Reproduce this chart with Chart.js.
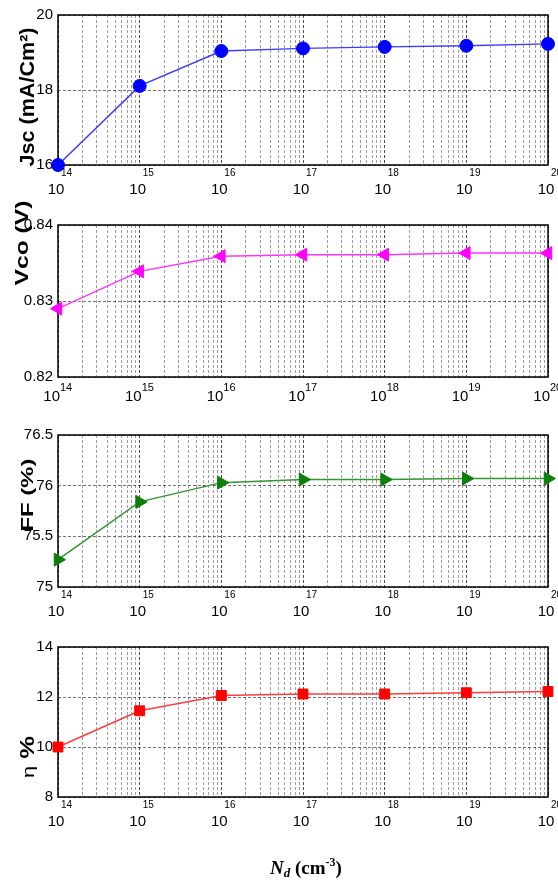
<!DOCTYPE html>
<html>
<head>
<meta charset="utf-8">
<script src="https://cdn.jsdelivr.net/npm/chart.js@4.4.0/dist/chart.umd.min.js"></script>
<style>
body { margin: 0; background: #fff; }
.panel { position: absolute; left: 0; width: 558px; }
canvas { display: block; }
</style>
</head>
<body>
<div class="panel" style="top:0px"><canvas id="jsc" width="558" height="200"></canvas></div>
<div class="panel" style="top:200px"><canvas id="vco" width="558" height="220"></canvas></div>
<div class="panel" style="top:420px"><canvas id="ff" width="558" height="200"></canvas></div>
<div class="panel" style="top:620px"><canvas id="eta" width="558" height="261"></canvas></div>
<script>
// doping concentration Nd (cm-3)
const nd = [1e14, 1e15, 1e16, 1e17, 1e18, 1e19, 1e20];
const ndExponents = ["14", "15", "16", "17", "18", "19", "20"];

// cell parameters
const jsc = [16.0, 18.11, 19.04, 19.11, 19.15, 19.18, 19.23];
const vco = [0.829, 0.8339, 0.8359, 0.8361, 0.8361, 0.8363, 0.8363];
const ff  = [75.27, 75.84, 76.03, 76.06, 76.06, 76.07, 76.07];
const eta = [10.0, 11.45, 12.06, 12.12, 12.12, 12.17, 12.22];

// y ticks
const jscTicks = { min: 16, max: 20, step: 2 };
const vcoTicks = { min: 0.82, max: 0.84, step: 0.01 };
const ffTicks  = { min: 75, max: 76.5, step: 0.5 };
const etaTicks = { min: 8, max: 14, step: 2 };

const SANS = "'Liberation Sans', Arial, sans-serif";
const SERIF = "'Liberation Serif', 'Times New Roman', serif";

// per panel text layout
const panelText =
{
    jsc: { parts: [ { text: "Jsc (mA/Cm\u00B2)", font: "bold 21px " + SANS } ], x: 34, y: 97, len: 139, tickStyle: "stacked" },
    vco: { parts: [ { text: "Vco (V)", font: "bold 18px " + SANS } ], x: 28, y: 43, len: 85, tickStyle: "inline" },
    ff:  { parts: [ { text: "FF (%)", font: "bold 17px " + SANS } ], x: 33, y: 75, len: 73, tickStyle: "stacked" },
    eta: { parts: [ { text: "\u03B7", font: "17px " + SANS }, { text: " %", font: "bold 20px " + SANS } ], x: 34, y: 137, len: 42, tickStyle: "stacked", xTitle: true }
};

/**********/
function isDecade(v)
{
    let l = Math.log10(v);
    return Math.abs(l - Math.round(l)) < 1e-6;
}

/**********/
function isWholeMantissa(v)
{
    let m = v / Math.pow(10, Math.floor(Math.log10(v) + 1e-9));
    return Math.abs(m - Math.round(m)) < 1e-6;
}

/**********/
function drawPowerLabels(chart, style)
{
    let ctx = chart.ctx;
    let scale = chart.scales.x;
    let bottom = chart.chartArea.bottom;

    ctx.save();
    ctx.fillStyle = "#000";
    ctx.textBaseline = "middle";

    for(let i=0; i<nd.length; i++)
    {
        let x = scale.getPixelForValue(nd[i]);

        if(style === "stacked")
        {
            ctx.font = "15px " + SANS;
            ctx.textAlign = "center";
            ctx.fillText("10", x - 2, bottom + 25);

            ctx.font = "10px " + SANS;
            ctx.textAlign = "left";
            ctx.fillText(ndExponents[i], x + 3, bottom + 8);
        }
        else
        {
            ctx.font = "15px " + SANS;
            ctx.textAlign = "right";
            ctx.fillText("10", x + 2, bottom + 20);

            ctx.font = "11px " + SANS;
            ctx.textAlign = "left";
            ctx.fillText(ndExponents[i], x + 2, bottom + 11);
        }
    }

    ctx.restore();
}

/**********/
function drawYTitle(chart, t)
{
    let ctx = chart.ctx;
    ctx.save();

    let w = 0;
    for(let i=0; i<t.parts.length; i++)
    {
        ctx.font = t.parts[i].font;
        w += ctx.measureText(t.parts[i].text).width;
    }

    ctx.translate(t.x, t.y);
    ctx.rotate(-Math.PI / 2);
    ctx.scale(t.len / w, 1);
    ctx.fillStyle = "#000";
    ctx.textBaseline = "alphabetic";
    ctx.textAlign = "left";

    let pos = -w / 2;
    for(let i=0; i<t.parts.length; i++)
    {
        ctx.font = t.parts[i].font;
        ctx.fillText(t.parts[i].text, pos, 0);
        pos += ctx.measureText(t.parts[i].text).width;
    }

    ctx.restore();
}

/**********/
function drawNdTitle(chart)
{
    let ctx = chart.ctx;
    let a = chart.chartArea;

    let pieces =
    [
        { text: "N", font: "bold italic 19px " + SERIF, dy: 0 },
        { text: "d", font: "bold italic 13px " + SERIF, dy: 3 },
        { text: " (cm", font: "bold 19px " + SERIF, dy: 0 },
        { text: "-3", font: "bold 12px " + SERIF, dy: -8 },
        { text: ")", font: "bold 19px " + SERIF, dy: 0 }
    ];

    ctx.save();
    ctx.fillStyle = "#000";
    ctx.textBaseline = "alphabetic";
    ctx.textAlign = "left";

    let w = 0;
    for(let i=0; i<pieces.length; i++)
    {
        ctx.font = pieces[i].font;
        w += ctx.measureText(pieces[i].text).width;
    }

    let x = (a.left + a.right) / 2 + 3 - w / 2;
    let y = a.bottom + 77;

    for(let i=0; i<pieces.length; i++)
    {
        ctx.font = pieces[i].font;
        ctx.fillText(pieces[i].text, x, y + pieces[i].dy);
        x += ctx.measureText(pieces[i].text).width;
    }

    ctx.restore();
}

const panelPlugin =
{
    id: "panel",

    beforeDatasetsDraw(chart)
    {
        let a = chart.chartArea;
        let ctx = chart.ctx;
        ctx.save();
        ctx.strokeStyle = "#000";
        ctx.lineWidth = 1.5;
        ctx.strokeRect(a.left, a.top, a.right - a.left, a.bottom - a.top);
        ctx.restore();
    },

    afterDraw(chart)
    {
        let t = panelText[chart.canvas.id];
        drawPowerLabels(chart, t.tickStyle);
        drawYTitle(chart, t);
        if(t.xTitle) { drawNdTitle(chart); }
    }
};

/**********/
function makePanel(id, values, ticks, color, lineColor, marker, padTop, xHeight)
{
    const ctx = document.getElementById(id);

    let decimals = ticks.step < 0.1 ? 2 : 1;

    return new Chart(ctx,
    {
        type: "line",

        data:
        {
            labels: nd,
            datasets:
            [{
                data: values.map(function(v, i) { return { x: nd[i], y: v }; }),
                borderColor: lineColor,
                borderWidth: 1.5,
                backgroundColor: color,
                pointBackgroundColor: color,
                pointBorderColor: color,
                pointBorderWidth: 1,
                pointStyle: marker.style,
                pointRadius: marker.radius,
                pointRotation: marker.rotation,
                tension: 0,
                clip: false
            }]
        },

        options:
        {
            responsive: false,
            animation: false,
            events: [],
            layout: { padding: { top: padTop, right: 10, left: 0, bottom: 0 } },
            plugins: { legend: { display: false }, tooltip: { enabled: false } },

            scales:
            {
                x:
                {
                    type: "logarithmic",
                    min: 1e14,
                    max: 1e20,
                    afterFit: function(scale) { scale.height = xHeight; },
                    ticks: { display: false, autoSkip: false },
                    border: { display: false, dash: [3, 2] },
                    grid:
                    {
                        drawTicks: false,
                        lineWidth: 1,
                        color: function(c)
                        {
                            if(!c.tick) { return "rgba(0,0,0,0)"; }
                            if(isDecade(c.tick.value)) { return "rgba(0,0,0,0.7)"; }
                            if(isWholeMantissa(c.tick.value)) { return "rgba(0,0,0,0.38)"; }
                            return "rgba(0,0,0,0)";
                        }
                    }
                },

                y:
                {
                    min: ticks.min,
                    max: ticks.max,
                    afterFit: function(scale) { scale.width = 58; },
                    ticks:
                    {
                        stepSize: ticks.step,
                        padding: 5,
                        color: "#000",
                        font: { family: SANS, size: 15 },
                        callback: function(v) { return String(parseFloat(v.toFixed(decimals))); }
                    },
                    border: { display: false, dash: [3, 2] },
                    grid: { drawTicks: false, color: "rgba(0,0,0,0.55)", lineWidth: 1 }
                }
            }
        },

        plugins: [panelPlugin]
    });
}

makePanel("jsc", jsc, jscTicks, "#0000ff", "rgb(60,60,255)", { style: "circle", radius: 6.5, rotation: 0 }, 15, 35);
makePanel("vco", vco, vcoTicks, "#ff00ff", "rgb(255,50,255)", { style: "triangle", radius: 7.5, rotation: -90 }, 25, 43);
makePanel("ff", ff, ffTicks, "#0a800a", "rgb(50,150,50)", { style: "triangle", radius: 7.5, rotation: 90 }, 15, 33);
makePanel("eta", eta, etaTicks, "#ff0000", "rgb(255,60,60)", { style: "rect", radius: 7, rotation: 0 }, 27, 84);
</script>
</body>
</html>
